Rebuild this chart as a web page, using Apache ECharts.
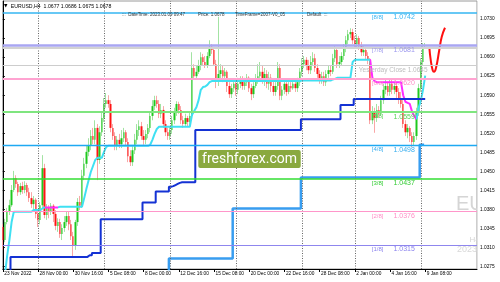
<!DOCTYPE html>
<html><head><meta charset="utf-8">
<script src="https://cdn.jsdelivr.net/npm/echarts@6/dist/echarts.min.js"></script>
<style>html,body{margin:0;padding:0;background:#fff}#c{width:500px;height:282px}</style>
</head><body><div id="c"></div>
<script>
// ---------- data ----------
const timeTickIdx = [0,16,32,48,64,80,96,112,128,144,160,176,192];
const timeLabels = ['23 Nov 2022','28 Nov 00:00','30 Nov 16:00','5 Dec 08:00','8 Dec 00:00','12 Dec 16:00','15 Dec 08:00','20 Dec 00:00','22 Dec 16:00','28 Dec 08:00','2 Jan 00:00','4 Jan 16:00','9 Jan 08:00'];
const priceTicks = [1.0275,1.0310,1.0345,1.0380,1.0415,1.0450,1.0485,1.0520,1.0555,1.0590,1.0625,1.0660,1.0695,1.0730];
const weekSeparators = [16,46,76,106,136,160,190];
const mmLevels = [1.0742,1.0681,1.0620,1.0559,1.0498,1.0437,1.0376,1.0315];
const mmNames = ['[8/8]','[7/8]','[6/8]','[5/8]','[4/8]','[3/8]','[2/8]','[1/8]'];
const yesterdayClose = 1.0645;
const bidPrice = 1.0678;

const opens = [
1.0348,1.0324,1.0357,1.0376,1.0388,1.0416,1.0438,1.0427,1.0412,1.0423,
1.0416,1.0425,1.0412,1.0401,1.0390,1.0398,1.0372,1.0361,1.0388,1.0456,
1.0370,1.0383,1.0376,1.0387,1.0372,1.0350,1.0357,1.0335,1.0346,1.0357,
1.0368,1.0353,1.0331,1.0313,1.0357,1.0394,1.0387,1.0442,1.0464,1.0486,
1.0497,1.0515,1.0508,1.0530,1.0471,1.0522,1.0548,1.0574,1.0581,1.0574,
1.0530,1.0515,1.0497,1.0508,1.0500,1.0511,1.0522,1.0504,1.0478,1.0467,
1.0489,1.0508,1.0526,1.0533,1.0515,1.0508,1.0519,1.0530,1.0552,1.0570,
1.0581,1.0574,1.0556,1.0563,1.0537,1.0522,1.0515,1.0526,1.0544,1.0559,
1.0574,1.0563,1.0544,1.0537,1.0548,1.0541,1.0552,1.0640,1.0625,1.0633,
1.0644,1.0660,1.0651,1.0644,1.0662,1.0679,1.0673,1.0647,1.0618,1.0629,
1.0636,1.0625,1.0633,1.0607,1.0592,1.0603,1.0611,1.0600,1.0611,1.0618,
1.0607,1.0614,1.0622,1.0603,1.0592,1.0607,1.0618,1.0625,1.0633,1.0618,
1.0629,1.0611,1.0622,1.0607,1.0596,1.0607,1.0640,1.0589,1.0600,1.0611,
1.0596,1.0607,1.0603,1.0611,1.0603,1.0614,1.0633,1.0647,1.0655,1.0644,
1.0636,1.0651,1.0658,1.0640,1.0629,1.0618,1.0625,1.0614,1.0629,1.0636,
1.0633,1.0658,1.0673,1.0647,1.0651,1.0662,1.0677,1.0691,1.0702,1.0706,
1.0691,1.0684,1.0695,1.0680,1.0669,1.0673,1.0662,1.0655,1.0544,1.0559,
1.0548,1.0563,1.0556,1.0581,1.0600,1.0607,1.0596,1.0611,1.0600,1.0607,
1.0596,1.0585,1.0574,1.0537,1.0522,1.0530,1.0515,1.0504,1.0515,1.0559,
1.0603,1.0651,1.0677];
const closes = [
1.0324,1.0357,1.0376,1.0388,1.0416,1.0438,1.0427,1.0412,1.0423,1.0416,
1.0425,1.0412,1.0401,1.0390,1.0398,1.0372,1.0361,1.0388,1.0456,1.0370,
1.0383,1.0376,1.0387,1.0372,1.0350,1.0357,1.0335,1.0346,1.0357,1.0368,
1.0353,1.0331,1.0313,1.0357,1.0394,1.0387,1.0442,1.0464,1.0486,1.0497,
1.0515,1.0508,1.0530,1.0471,1.0522,1.0548,1.0574,1.0581,1.0574,1.0530,
1.0515,1.0497,1.0508,1.0500,1.0511,1.0522,1.0504,1.0478,1.0467,1.0489,
1.0508,1.0526,1.0533,1.0515,1.0508,1.0519,1.0530,1.0552,1.0570,1.0581,
1.0574,1.0556,1.0563,1.0537,1.0522,1.0515,1.0526,1.0544,1.0559,1.0574,
1.0563,1.0544,1.0537,1.0548,1.0541,1.0552,1.0640,1.0625,1.0633,1.0644,
1.0660,1.0651,1.0644,1.0662,1.0679,1.0673,1.0647,1.0618,1.0629,1.0636,
1.0625,1.0633,1.0607,1.0592,1.0603,1.0611,1.0600,1.0611,1.0618,1.0607,
1.0614,1.0622,1.0603,1.0592,1.0607,1.0618,1.0625,1.0633,1.0618,1.0629,
1.0611,1.0622,1.0607,1.0596,1.0607,1.0640,1.0589,1.0600,1.0611,1.0596,
1.0607,1.0603,1.0611,1.0603,1.0614,1.0633,1.0647,1.0655,1.0644,1.0636,
1.0651,1.0658,1.0640,1.0629,1.0618,1.0625,1.0614,1.0629,1.0636,1.0633,
1.0658,1.0673,1.0647,1.0651,1.0662,1.0677,1.0691,1.0702,1.0706,1.0691,
1.0684,1.0695,1.0680,1.0669,1.0673,1.0662,1.0655,1.0544,1.0559,1.0548,
1.0563,1.0556,1.0581,1.0600,1.0607,1.0596,1.0611,1.0600,1.0607,1.0596,
1.0585,1.0574,1.0537,1.0522,1.0530,1.0515,1.0504,1.0515,1.0559,1.0603,
1.0651,1.0677,1.0678];
const lows = [
1.0306,1.0320,1.0353,1.0370,1.0385,1.0412,1.0420,1.0405,1.0407,1.0409,
1.0410,1.0405,1.0394,1.0383,1.0379,1.0364,1.0348,1.0353,1.0383,1.0364,
1.0361,1.0364,1.0370,1.0357,1.0342,1.0339,1.0328,1.0324,1.0339,1.0350,
1.0342,1.0324,1.0291,1.0306,1.0350,1.0379,1.0383,1.0434,1.0456,1.0478,
1.0489,1.0500,1.0500,1.0434,1.0464,1.0515,1.0541,1.0567,1.0567,1.0522,
1.0508,1.0489,1.0489,1.0493,1.0493,1.0504,1.0497,1.0467,1.0460,1.0460,
1.0482,1.0500,1.0515,1.0508,1.0499,1.0500,1.0511,1.0522,1.0544,1.0563,
1.0567,1.0548,1.0548,1.0530,1.0515,1.0508,1.0508,1.0519,1.0537,1.0552,
1.0556,1.0537,1.0530,1.0533,1.0533,1.0533,1.0548,1.0618,1.0618,1.0629,
1.0636,1.0644,1.0640,1.0640,1.0658,1.0666,1.0644,1.0603,1.0607,1.0618,
1.0614,1.0618,1.0596,1.0585,1.0585,1.0596,1.0589,1.0592,1.0603,1.0600,
1.0600,1.0607,1.0596,1.0581,1.0585,1.0603,1.0611,1.0618,1.0611,1.0607,
1.0603,1.0600,1.0596,1.0589,1.0589,1.0600,1.0581,1.0581,1.0592,1.0589,
1.0592,1.0596,1.0600,1.0596,1.0596,1.0607,1.0625,1.0640,1.0636,1.0629,
1.0629,1.0644,1.0633,1.0622,1.0611,1.0611,1.0607,1.0607,1.0622,1.0625,
1.0629,1.0651,1.0640,1.0640,1.0644,1.0655,1.0669,1.0684,1.0695,1.0684,
1.0677,1.0677,1.0673,1.0662,1.0662,1.0655,1.0647,1.0537,1.0537,1.0521,
1.0541,1.0548,1.0552,1.0574,1.0592,1.0589,1.0589,1.0592,1.0592,1.0585,
1.0574,1.0567,1.0530,1.0515,1.0511,1.0504,1.0495,1.0497,1.0508,1.0552,
1.0596,1.0644,1.0675];
const highs = [
1.0353,1.0363,1.0383,1.0398,1.0425,1.0451,1.0443,1.0431,1.0429,1.0431,
1.0432,1.0429,1.0420,1.0412,1.0405,1.0401,1.0379,1.0394,1.0480,1.0464,
1.0390,1.0388,1.0392,1.0390,1.0379,1.0364,1.0363,1.0353,1.0368,1.0376,
1.0376,1.0361,1.0339,1.0361,1.0401,1.0405,1.0453,1.0475,1.0497,1.0511,
1.0526,1.0530,1.0544,1.0537,1.0533,1.0559,1.0585,1.0594,1.0590,1.0581,
1.0537,1.0522,1.0515,1.0519,1.0526,1.0530,1.0526,1.0511,1.0489,1.0497,
1.0519,1.0537,1.0544,1.0541,1.0526,1.0526,1.0537,1.0559,1.0581,1.0589,
1.0589,1.0581,1.0574,1.0570,1.0544,1.0530,1.0533,1.0552,1.0567,1.0579,
1.0578,1.0570,1.0552,1.0556,1.0552,1.0559,1.0669,1.0647,1.0644,1.0655,
1.0669,1.0666,1.0662,1.0669,1.0691,1.0684,1.0677,1.0655,1.0734,1.0647,
1.0644,1.0640,1.0636,1.0614,1.0611,1.0618,1.0618,1.0622,1.0625,1.0625,
1.0622,1.0629,1.0625,1.0611,1.0614,1.0629,1.0647,1.0651,1.0644,1.0640,
1.0636,1.0633,1.0629,1.0618,1.0614,1.0651,1.0647,1.0607,1.0618,1.0618,
1.0614,1.0614,1.0618,1.0618,1.0622,1.0640,1.0658,1.0662,1.0660,1.0655,
1.0662,1.0669,1.0666,1.0647,1.0636,1.0633,1.0633,1.0636,1.0644,1.0644,
1.0666,1.0680,1.0677,1.0662,1.0669,1.0684,1.0699,1.0710,1.0713,1.0712,
1.0699,1.0702,1.0699,1.0688,1.0680,1.0677,1.0669,1.0658,1.0570,1.0567,
1.0574,1.0570,1.0589,1.0611,1.0618,1.0614,1.0618,1.0618,1.0614,1.0614,
1.0603,1.0596,1.0581,1.0544,1.0537,1.0533,1.0522,1.0522,1.0567,1.0611,
1.0658,1.0686,1.0686];

// trailing line (cyan, magenta where falling)
const trendLine = [
null,1.0262,1.0296,1.0324,1.0357,1.0376,1.0376,1.0376,1.0376,1.0376,
1.0376,1.0376,1.0376,1.0376,1.0379,1.0379,1.0379,1.0379,1.0382,1.0384,
1.0384,1.0384,1.0384,1.0384,1.0384,1.0384,1.0385,1.0385,1.0385,1.0385,
1.0385,1.0385,1.0385,1.0385,1.0385,1.0385,1.0385,1.0401,1.0418,1.0434,
1.0449,1.0460,1.0471,1.0475,1.0475,1.0475,1.0486,1.0495,1.0497,1.0497,
1.0497,1.0497,1.0497,1.0497,1.0497,1.0497,1.0497,1.0497,1.0497,1.0497,
1.0497,1.0497,1.0497,1.0497,1.0497,1.0497,1.0497,1.0499,1.0508,1.0519,
1.0528,1.0532,1.0532,1.0532,1.0532,1.0532,1.0532,1.0532,1.0532,1.0532,
1.0532,1.0532,1.0532,1.0532,1.0532,1.0532,1.0554,1.0561,1.0568,1.0581,
1.0600,1.0605,1.0606,1.0609,1.0614,1.0616,1.0616,1.0616,1.0616,1.0616,
1.0616,1.0616,1.0616,1.0616,1.0616,1.0616,1.0616,1.0616,1.0616,1.0616,
1.0616,1.0616,1.0616,1.0616,1.0616,1.0616,1.0616,1.0616,1.0616,1.0616,
1.0616,1.0616,1.0616,1.0616,1.0616,1.0616,1.0616,1.0616,1.0616,1.0616,
1.0616,1.0616,1.0616,1.0616,1.0616,1.0616,1.0617,1.0617,1.0617,1.0617,
1.0617,1.0617,1.0617,1.0617,1.0617,1.0617,1.0617,1.0617,1.0617,1.0617,
1.0619,1.0620,1.0622,1.0622,1.0622,1.0622,1.0622,1.0622,1.0622,1.0651,
1.0655,1.0655,1.0655,1.0655,1.0655,1.0655,1.0655,1.0655,1.0622,1.0616,
1.0614,1.0614,1.0614,1.0614,1.0614,1.0614,1.0614,1.0614,1.0614,1.0614,
1.0614,1.0614,1.0590,1.0578,1.0576,1.0574,1.0560,1.0552,1.0546,1.0567,
1.0580,1.0600,1.0626];
// weekly levels (dark blue and light blue steps)
const weeklyBlue = [
null,null,null,1.0260,1.0293,1.0293,1.0293,1.0293,1.0293,1.0293,
1.0293,1.0293,1.0293,1.0293,1.0293,1.0293,1.0293,1.0293,1.0293,1.0293,
1.0293,1.0293,1.0293,1.0293,1.0293,1.0293,1.0293,1.0293,1.0293,1.0293,
1.0293,1.0293,1.0293,1.0293,1.0293,1.0293,1.0293,1.0293,1.0293,1.0296,
1.0296,1.0300,1.0300,1.0300,1.0300,1.0362,1.0362,1.0362,1.0362,1.0362,
1.0362,1.0362,1.0362,1.0362,1.0362,1.0362,1.0362,1.0362,1.0362,1.0362,
1.0362,1.0362,1.0362,1.0362,1.0393,1.0393,1.0393,1.0393,1.0393,1.0393,
1.0413,1.0413,1.0413,1.0413,1.0413,1.0413,1.0422,1.0423,1.0425,1.0427,
1.0429,1.0430,1.0430,1.0430,1.0430,1.0430,1.0430,1.0430,1.0526,1.0526,
1.0526,1.0526,1.0526,1.0526,1.0526,1.0526,1.0526,1.0526,1.0526,1.0526,
1.0526,1.0526,1.0526,1.0526,1.0526,1.0526,1.0526,1.0526,1.0526,1.0526,
1.0526,1.0526,1.0526,1.0526,1.0526,1.0526,1.0526,1.0526,1.0526,1.0526,
1.0526,1.0526,1.0526,1.0526,1.0526,1.0526,1.0526,1.0526,1.0526,1.0526,
1.0526,1.0526,1.0526,1.0526,1.0526,1.0526,1.0546,1.0546,1.0546,1.0546,
1.0546,1.0546,1.0546,1.0546,1.0546,1.0546,1.0546,1.0546,1.0546,1.0546,
1.0546,1.0546,1.0546,1.0546,1.0572,1.0572,1.0572,1.0572,1.0572,1.0572,
1.0583,1.0583,1.0583,1.0583,1.0583,1.0583,1.0583,1.0583,1.0583,1.0583,
1.0583,1.0583,1.0583,1.0583,1.0583,1.0583,1.0583,1.0583,1.0583,1.0583,
1.0583,1.0583,1.0583,1.0583,1.0583,1.0583,1.0583,1.0583,1.0583,1.0583,
1.0583,1.0583,1.0583];
const weeklyLight = [
null,null,null,null,null,null,null,null,null,null,
null,null,null,null,null,null,null,null,null,null,
null,null,null,null,null,null,null,null,null,null,
null,null,null,null,null,null,null,null,null,null,
null,null,null,null,null,null,null,null,null,null,
null,null,null,null,null,null,null,null,null,null,
null,null,null,null,null,null,null,null,null,null,
null,null,null,null,null,1.0250,1.0290,1.0290,1.0290,1.0290,
1.0290,1.0290,1.0290,1.0290,1.0290,1.0290,1.0290,1.0290,1.0290,1.0290,
1.0290,1.0290,1.0290,1.0290,1.0290,1.0290,1.0290,1.0290,1.0290,1.0290,
1.0290,1.0290,1.0290,1.0290,1.0290,1.0382,1.0382,1.0382,1.0382,1.0382,
1.0382,1.0382,1.0382,1.0382,1.0382,1.0382,1.0382,1.0382,1.0382,1.0382,
1.0382,1.0382,1.0382,1.0382,1.0382,1.0382,1.0382,1.0382,1.0382,1.0382,
1.0382,1.0382,1.0382,1.0382,1.0382,1.0382,1.0439,1.0439,1.0439,1.0439,
1.0439,1.0439,1.0439,1.0439,1.0439,1.0439,1.0439,1.0439,1.0439,1.0439,
1.0439,1.0439,1.0439,1.0439,1.0439,1.0439,1.0439,1.0439,1.0439,1.0439,
1.0439,1.0439,1.0439,1.0439,1.0439,1.0439,1.0439,1.0439,1.0439,1.0439,
1.0439,1.0439,1.0439,1.0439,1.0439,1.0439,1.0439,1.0439,1.0439,1.0439,
1.0439,1.0439,1.0439,1.0439,1.0439,1.0439,1.0439,1.0439,1.0439,1.0439,
1.0499,1.0499,null];
// red forecast curve (bar index, price)
const forecastIdx = [193.9,194.5,195.4,196.0,196.9,198.4,199.5,201.0];
const forecastPrice = [1.0677,1.0655,1.0636,1.0633,1.0640,1.0673,1.0697,1.0714];

// ---------- styles ----------
const FONT = 'Liberation Sans';
const mmLineColors = ['#35b6f2','#a9a6f2','#ffa3d1','#7fe57f','#1ea9f2','#33de33','#ff96ca','#8f86ee'];
const mmLineWidths = [1.5,2.5,2,2,1.4,1.5,1.2,1.2];
const mmTextColors = ['#3ab5f2','#9d99ee','#ff8ec6','#55d455','#3aaeee','#33cc33','#ff8ec6','#8c84ee'];
const mmBoxBg = ['#33b5f2','#a09cf0','#ff93c9','#2ee22e','#3aaef0','#22e022','#ff93c9','#8c84ee'];
const mmBoxFg = ['#fff','#fff','#fff','#000','#fff','#000','#fff','#fff'];

const candleData = opens.map((o, i) => [i, o, closes[i], lows[i], highs[i]]);
const bodyData = opens.map((o, i) => [i, o, closes[i], Math.min(o, closes[i]), Math.max(o, closes[i])]);
const pairs = arr => arr.map((v, i) => [i, v]);

const mmLineData = [
  {yAxis: bidPrice, lineStyle: {color: '#d2d2d2', width: 2, type: 'solid'}, label: {show: false}},
  {yAxis: yesterdayClose, lineStyle: {color: '#cdcdcd', width: 1, type: 'solid'},
   label: {show: true, position: 'insideStartBottom', distance: 1, padding: [0,0,0,355],
           formatter: () => 'Yesterday Close ' + yesterdayClose.toFixed(4),
           color: '#bdbdbd', fontSize: 6.5, fontFamily: FONT}}
];
mmLevels.forEach((v, k) => mmLineData.push({
  yAxis: v, lineStyle: {color: mmLineColors[k], width: mmLineWidths[k], type: 'solid'},
  label: {show: true, position: 'insideStartBottom', distance: 1, padding: [0,0,0,368],
          formatter: () => '{m|' + mmNames[k] + '}{v|' + v.toFixed(4) + '}',
          rich: {m: {color: mmTextColors[k], fontSize: 6, fontFamily: FONT},
                 v: {color: mmTextColors[k], fontSize: 7, fontFamily: FONT, padding: [0,0,0,10]}}}
}));

const boxData = [{yAxis: bidPrice, bg: '#000', fg: '#fff'}, {yAxis: yesterdayClose, bg: '#cfcfcf', fg: '#fff'}]
  .concat(mmLevels.map((v, k) => ({yAxis: v, bg: mmBoxBg[k], fg: mmBoxFg[k]})))
  .map(d => ({yAxis: d.yAxis, lineStyle: {opacity: 0, width: 0.5, type: 'solid'},
    label: {show: true, position: 'end', distance: 1, formatter: () => d.yAxis.toFixed(4),
            backgroundColor: d.bg, color: d.fg, padding: [1.5,3.5,1,3.5], fontSize: 4.8, fontFamily: FONT}}));

const cyan = '#3fe0f2', magenta = '#ff2bff';

const chart = echarts.init(document.getElementById('c'), null, {renderer: 'canvas'});
chart.setOption({
  animation: false,
  backgroundColor: '#fff',
  textStyle: {fontFamily: FONT},
  grid: {left: 2.8, right: 23, top: 1, bottom: 13, show: true, borderColor: '#9a9a9a', borderWidth: 1, backgroundColor: 'transparent'},
  xAxis: {
    type: 'value', min: 0, max: 215.545, z: 3,
    axisLine: {show: true, onZero: false, lineStyle: {color: '#000', width: 1}},
    axisTick: {show: true, customValues: timeTickIdx, length: 3, lineStyle: {color: '#000'}},
    axisLabel: {customValues: timeTickIdx, formatter: v => timeLabels[timeTickIdx.indexOf(v)] || '',
                fontSize: 4.8, color: '#000', align: 'left', margin: 2.5, padding: [0,0,0,1.5], fontFamily: FONT},
    splitLine: {show: false}
  },
  yAxis: {
    type: 'value', position: 'right', min: 1.02708, max: 1.07631, z: 3,
    axisLine: {show: true, lineStyle: {color: '#000', width: 1}},
    axisTick: {show: true, customValues: priceTicks, length: 2, lineStyle: {color: '#000'}},
    axisLabel: {customValues: priceTicks, formatter: v => v.toFixed(4), fontSize: 4.8, color: '#000', margin: 3, fontFamily: FONT},
    splitLine: {show: false}
  },
  visualMap: [{
    type: 'piecewise', show: false, dimension: 0, seriesIndex: 4,
    pieces: [
      {lt: 19, color: cyan}, {gte: 19, lte: 25, color: magenta},
      {gt: 25, lt: 167, color: cyan}, {gte: 167, lte: 188, color: magenta}, {gt: 188, color: cyan}
    ]
  }],
  series: [
    { name: 'sep', type: 'line', data: [], z: 1, silent: true,
      markLine: {silent: true, precision: 6, symbol: ['none','none'], label: {show: false},
                 lineStyle: {color: '#666', width: 1, type: [1, 1.5]},
                 data: weekSeparators.map(v => ({xAxis: v}))} },
    { name: 'mm', type: 'line', data: [], z: 2, silent: true,
      markLine: {silent: true, precision: 6, symbol: ['none','none'], lineStyle: {type: 'solid'}, data: mmLineData} },
    { name: 'wicks', type: 'candlestick', data: candleData, encode: {x: 0, y: [1,2,3,4]}, z: 3,
      barWidth: 1, silent: true,
      itemStyle: {color: '#a3e3a3', color0: '#f9a7a7', borderColor: '#a3e3a3', borderColor0: '#f9a7a7', borderWidth: 1} },
    { name: 'bodies', type: 'candlestick', data: bodyData, encode: {x: 0, y: [1,2,3,4]}, z: 3,
      barWidth: 2, silent: true,
      itemStyle: {color: '#1fc91f', color0: '#ff1414', borderWidth: 0, borderColor: '#1fc91f', borderColor0: '#ff1414'} },
    { name: 'trend', type: 'line', data: pairs(trendLine), z: 4, showSymbol: false, silent: true,
      lineStyle: {width: 2}, connectNulls: false },
    { name: 'weekly', type: 'line', data: pairs(weeklyBlue), z: 4, step: 'middle', showSymbol: false, silent: true,
      lineStyle: {width: 2, color: '#1432d4'}, itemStyle: {color: '#1432d4'} },
    { name: 'weekly2', type: 'line', data: pairs(weeklyLight), z: 4, step: 'middle', showSymbol: false, silent: true,
      lineStyle: {width: 2.5, color: '#389df0'}, itemStyle: {color: '#389df0'} },
    { name: 'forecast', type: 'line', data: forecastIdx.map((x, k) => [x, forecastPrice[k]]), z: 4,
      smooth: 0.5, showSymbol: false, silent: true, lineStyle: {width: 2, color: '#ff1010'}, itemStyle: {color: '#ff1010'} },
    { name: 'boxes', type: 'line', data: [], z: 5, silent: true,
      markLine: {silent: true, precision: 6, symbol: ['none','none'], data: boxData} }
  ],
  graphic: [
    {type: 'text', x: 456, y: 204, z: 0, silent: true,
     style: {text: 'EURUSD', fill: '#d5d5d5', fontSize: 20, fontFamily: FONT, textAlign: 'left', align: 'left', textVerticalAlign: 'middle', verticalAlign: 'middle'}},
    {type: 'text', x: 469.5, y: 240, z: 0, silent: true,
     style: {text: 'H4', fill: '#d5d5d5', fontSize: 8, fontFamily: FONT, textAlign: 'left', align: 'left', textVerticalAlign: 'middle', verticalAlign: 'middle'}},
    {type: 'text', x: 457, y: 250, z: 0, silent: true,
     style: {text: '2023.01.09', fill: '#d8d8d8', fontSize: 9, fontFamily: FONT, textAlign: 'left', align: 'left', textVerticalAlign: 'middle', verticalAlign: 'middle'}},
    {type: 'rect', z: 2.5, silent: true, shape: {x: 477.6, y: 0, width: 23, height: 282}, style: {fill: '#fff'}},
    {type: 'rect', z: 6, silent: true, shape: {x: 198.3, y: 150, width: 102.4, height: 18, r: 2}, style: {fill: '#8aa93f'}},
    {type: 'text', x: 249.5, y: 159, z: 7, silent: true,
     style: {text: 'freshforex.com', fill: '#fff', fontSize: 14, fontFamily: 'Roboto', textAlign: 'center', align: 'center', textVerticalAlign: 'middle', verticalAlign: 'middle'}},
    {type: 'text', x: 4, y: 6.2, z: 10, silent: true,
     style: {text: '\u25BC', fill: '#000', fontSize: 4.5, fontFamily: 'DejaVu Sans', textAlign: 'left', align: 'left', textVerticalAlign: 'middle', verticalAlign: 'middle'}},
    {type: 'text', x: 10.7, y: 6.2, z: 10, silent: true,
     style: {text: 'EURUSD,H4  ' + opens[192].toFixed(4) + ' ' + highs[192].toFixed(4) + ' ' + lows[192].toFixed(4) + ' ' + closes[192].toFixed(4),
             fill: '#000', fontSize: 5.2, fontFamily: FONT, textAlign: 'left', align: 'left', textVerticalAlign: 'middle', verticalAlign: 'middle'}},
    {type: 'text', x: 122, y: 15, z: 10, silent: true,
     style: {text: ':::  DateTime: 2023.01.09 09:47', fill: '#333', fontSize: 4.5, fontFamily: FONT, textAlign: 'left', align: 'left', textVerticalAlign: 'middle', verticalAlign: 'middle'}},
    {type: 'text', x: 198, y: 15, z: 10, silent: true,
     style: {text: 'Price: ' + bidPrice.toFixed(4), fill: '#333', fontSize: 4.5, fontFamily: FONT, textAlign: 'left', align: 'left', textVerticalAlign: 'middle', verticalAlign: 'middle'}},
    {type: 'text', x: 235, y: 15, z: 10, silent: true,
     style: {text: 'TimeFrame=2007-V0_05', fill: '#333', fontSize: 4.5, fontFamily: FONT, textAlign: 'left', align: 'left', textVerticalAlign: 'middle', verticalAlign: 'middle'}},
    {type: 'text', x: 307, y: 15, z: 10, silent: true,
     style: {text: 'Default  :::', fill: '#333', fontSize: 4.5, fontFamily: FONT, textAlign: 'left', align: 'left', textVerticalAlign: 'middle', verticalAlign: 'middle'}}
  ]
});
</script>
</body></html>
